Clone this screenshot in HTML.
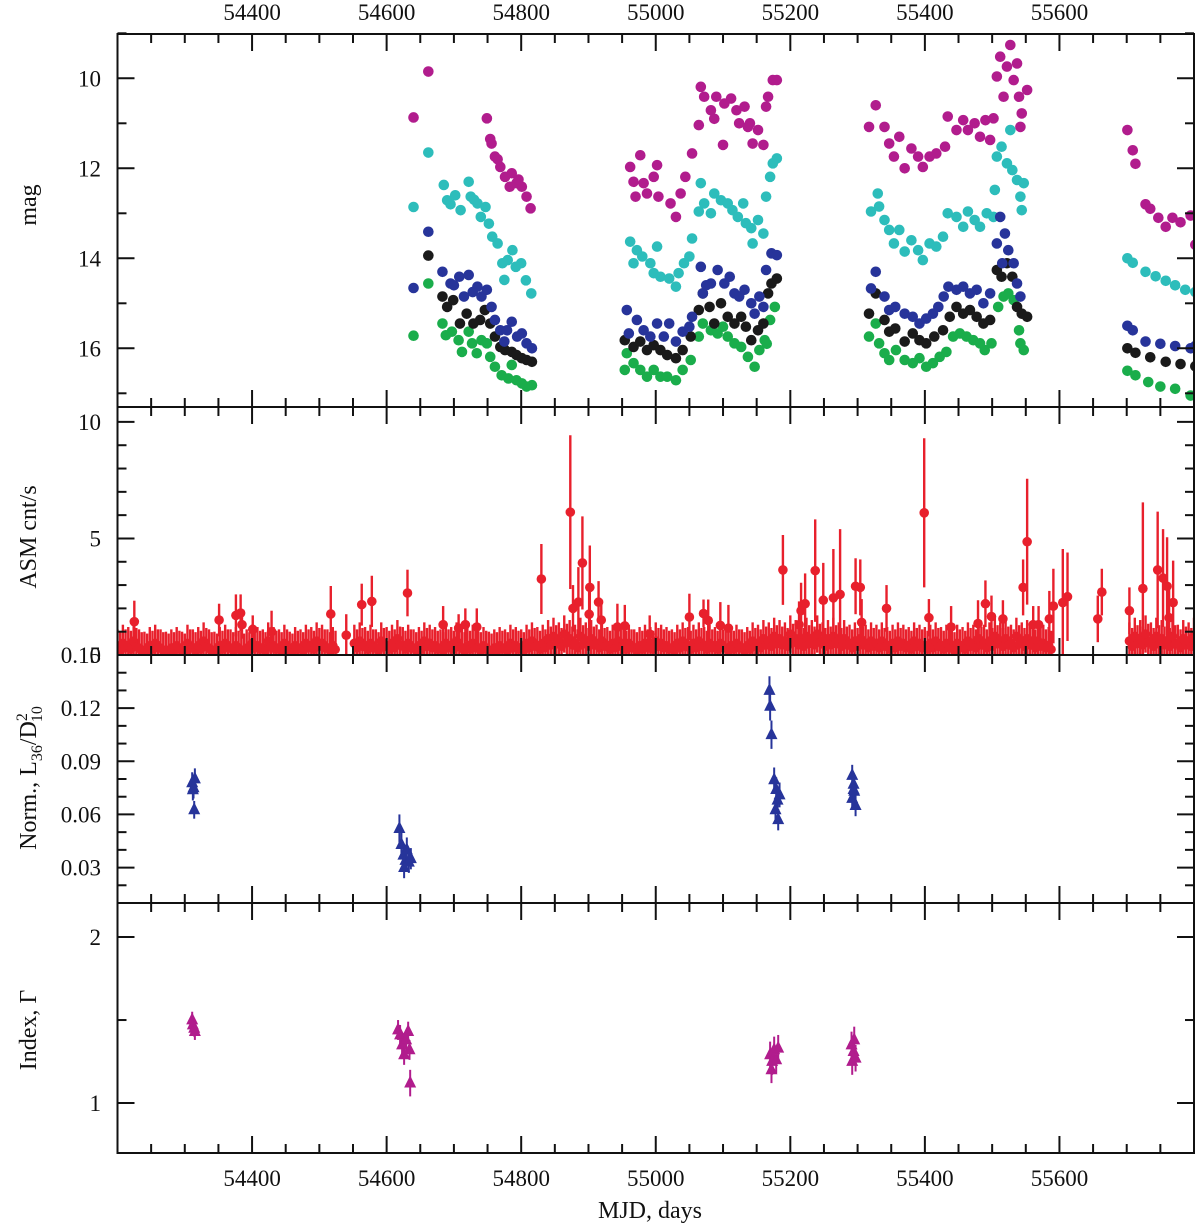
<!DOCTYPE html>
<html><head><meta charset="utf-8">
<style>
html,body{margin:0;padding:0;background:#fff;}
svg{display:block;}
text{font-family:"Liberation Serif",serif;fill:#111;}
</style></head>
<body>
<div style="position:relative;width:1200px;height:1225px;">
<svg id="chart" width="1200" height="1225" viewBox="0 0 1200 1225" xmlns="http://www.w3.org/2000/svg" style="position:absolute;left:0;top:0">
<g id="marks"></g>
<g id="axes"></g>
<text x="650" y="1218" text-anchor="middle" font-size="24">MJD, days</text>
<text transform="translate(36,205) rotate(-90)" text-anchor="middle" font-size="24">mag</text>
<text transform="translate(36,537) rotate(-90)" text-anchor="middle" font-size="24">ASM cnt/s</text>
<text transform="translate(36,778) rotate(-90)" text-anchor="middle" font-size="24">Norm., L<tspan font-size="16" dy="6">36</tspan><tspan dy="-6">/D</tspan><tspan font-size="16" dy="-9">2</tspan><tspan font-size="16" dx="-9" dy="15">10</tspan></text>
<text transform="translate(36,1030) rotate(-90)" text-anchor="middle" font-size="24">Index, Γ</text>
</svg>
</div>
<script>
// ---------- X axis ----------
const xTicksMajor = [54400, 54600, 54800, 55000, 55200, 55400, 55600];
// ---------- Magnitude panel data ----------
const magMjd = [54640,54662,54749,54756,54761,54769,54776,54786,54793,54801,54808,54814,54765,54783,54754,54796,
 54962,54977,54967,54970,54982,54987,54997,55002,55004,55022,55030,55037,55044,55054,55064,55067,55072,55082,55090,55100,55102,55112,55120,55124,55132,55137,55144,55152,55160,55164,55167,55174,55180,55140,55087,
 55317,55327,55340,55347,55354,55362,55370,55380,55390,55397,55407,55417,55430,55434,55447,55457,55464,55474,55482,55490,55497,55502,55507,55512,55517,55522,55527,55532,55537,55540,55544,55542,55552,
 55701,55709,55713,55728,55735,55747,55758,55768,55780,55795,55802];
const magMagenta = [10.87,9.85,10.89,11.45,11.74,11.97,12.19,12.11,12.33,12.41,12.63,12.89,11.8,12.41,11.35,12.25,
 11.97,11.71,12.3,12.63,12.33,12.56,12.19,11.93,12.63,12.78,13.08,12.56,12.19,11.67,11.04,10.19,10.41,10.71,10.41,11.48,10.56,10.45,10.71,11.0,10.63,11.08,11.45,11.15,11.48,10.63,10.41,10.04,10.04,11.0,10.9,
 11.08,10.6,11.08,11.45,11.74,11.3,12.0,11.56,11.74,11.97,11.74,11.67,11.52,10.85,11.15,10.93,11.15,11.0,11.3,10.93,11.37,10.89,9.96,9.52,10.41,9.74,9.26,10.04,9.67,10.41,10.78,11.08,10.26,
 11.15,11.6,11.9,12.8,12.9,13.1,13.3,13.1,13.2,13.05,13.7];

const cyanMjd = [54640,54662,54685,54690,54702,54710,54722,54725,54735,54740,54747,54752,54757,54765,54772,54780,54787,54792,54800,54807,54815,54775,54695,54730,
 54962,54972,54967,54980,54992,55002,54997,55007,55020,55030,55034,55042,55050,55054,55064,55067,55072,55082,55087,55097,55107,55114,55122,55130,55134,55142,55144,55152,55160,55164,55170,55174,55180,
 55320,55330,55332,55340,55347,55354,55362,55370,55380,55390,55397,55407,55417,55427,55434,55447,55457,55464,55474,55482,55492,55502,55504,55507,55514,55522,55527,55530,55537,55542,55547,55544,
 55701,55709,55728,55743,55758,55772,55787,55802];
const magCyan = [12.86,11.65,12.37,12.71,12.6,12.93,12.3,12.63,12.78,13.08,12.86,13.23,13.52,13.67,14.11,14.04,13.82,14.19,14.11,14.49,14.78,14.48,12.8,12.7,
 13.63,13.82,14.11,13.96,14.11,13.74,14.33,14.41,14.45,14.63,14.33,14.11,13.96,13.56,12.96,12.33,12.78,13.0,12.56,12.71,12.78,12.93,13.08,12.78,13.22,13.33,13.67,13.15,13.45,12.63,12.19,11.89,11.78,
 12.96,12.56,12.85,13.15,13.37,13.67,13.37,13.85,13.6,13.82,14.04,13.67,13.74,13.52,13.0,13.08,13.3,12.96,13.15,13.3,13.0,13.08,12.48,11.74,11.52,11.89,11.15,12.04,12.26,12.63,12.33,12.93,
 14.0,14.1,14.3,14.4,14.5,14.6,14.7,14.75];

const blueMjd = [54640,54662,54683,54695,54708,54715,54722,54735,54741,54749,54756,54761,54769,54779,54786,54794,54801,54808,54816,54775,54700,54728,
 54957,54960,54972,54982,54992,55002,55012,55020,55030,55040,55050,55054,55067,55070,55082,55092,55102,55110,55117,55124,55132,55142,55147,55154,55160,55164,55172,55180,55075,
 55327,55320,55340,55347,55356,55370,55382,55392,55402,55412,55420,55428,55435,55447,55457,55467,55477,55487,55497,55507,55512,55519,55524,55532,55537,55542,55515,
 55701,55709,55728,55750,55772,55795,55802];
const magBlue = [14.66,13.41,14.3,14.56,14.41,14.85,14.37,14.63,14.85,14.7,15.08,15.37,15.6,15.6,15.41,15.74,15.67,15.89,16.0,15.85,14.6,14.75,
 15.15,15.67,15.37,15.6,15.74,15.45,15.74,15.45,15.85,15.63,15.52,15.3,14.19,14.78,14.56,14.26,14.56,14.41,14.78,14.85,14.7,15.0,15.23,14.85,15.08,14.26,13.89,13.93,14.6,
 14.3,14.67,14.85,15.15,15.08,15.23,15.3,15.45,15.34,15.23,15.08,14.85,14.63,14.7,14.63,14.78,14.7,15.0,14.78,13.67,13.08,13.45,13.82,14.11,14.56,14.85,14.11,
 15.5,15.6,15.85,15.9,15.95,16.0,15.95];

const blackMjd = [54662,54683,54690,54699,54709,54719,54729,54739,54746,54754,54761,54769,54776,54786,54793,54801,54808,54816,
 54954,54967,54977,54987,54997,55007,55017,55030,55040,55052,55064,55070,55080,55087,55097,55107,55117,55127,55134,55142,55152,55160,55167,55172,55180,
 55317,55327,55340,55347,55356,55370,55382,55392,55402,55414,55427,55437,55447,55457,55467,55477,55487,55497,55507,55514,55522,55530,55537,55544,55552,
 55701,55713,55735,55758,55780,55802];
const magBlack = [13.94,14.85,15.08,14.93,15.45,15.23,15.45,15.37,15.15,15.45,15.74,15.97,16.04,16.08,16.15,16.22,16.26,16.3,
 15.82,15.97,15.85,16.04,15.93,16.04,16.15,16.22,16.04,15.74,15.15,14.78,15.08,15.45,15.0,15.3,15.45,15.3,15.52,15.82,15.6,15.45,14.78,14.56,14.45,
 15.23,14.78,15.37,15.63,15.56,15.85,15.67,15.82,15.89,15.74,15.6,15.3,15.08,15.23,15.15,15.3,15.45,15.37,14.26,14.41,14.11,14.41,15.08,15.23,15.3,
 16.0,16.1,16.2,16.3,16.35,16.4];

const greenMjd = [54640,54662,54683,54688,54697,54707,54712,54722,54727,54734,54741,54749,54754,54761,54771,54781,54786,54793,54801,54808,54816,
 54957,54954,54967,54977,54987,54997,55007,55017,55030,55040,55052,55064,55070,55082,55092,55100,55107,55117,55127,55137,55147,55154,55162,55170,55177,55165,
 55317,55327,55332,55340,55347,55357,55370,55382,55392,55402,55412,55422,55432,55442,55452,55462,55472,55482,55489,55499,55509,55517,55524,55532,55540,55542,55547,
 55701,55713,55732,55750,55772,55795];
const magGreen = [15.72,14.56,15.45,15.71,15.63,15.82,16.08,15.63,15.89,16.11,15.82,15.89,16.19,16.41,16.6,16.67,16.37,16.71,16.78,16.85,16.82,
 16.11,16.48,16.33,16.48,16.63,16.48,16.63,16.63,16.71,16.48,16.26,15.74,15.45,15.6,15.67,15.52,15.74,15.89,15.97,16.19,16.41,16.04,15.82,15.37,15.08,15.9,
 15.74,15.45,15.89,16.11,16.26,16.04,16.26,16.33,16.22,16.41,16.33,16.19,16.08,15.74,15.67,15.74,15.82,15.89,16.04,15.89,15.08,14.85,14.78,14.93,15.6,15.89,16.04,
 16.5,16.6,16.75,16.85,16.9,17.05];

// ---------- ASM panel data ----------
const asmBaseStart = 54200;
const asmBaseStep = 8;
const asmBase = [0.3,0.5,0.4,0.6,0.3,0.2,0.4,0.5,0.3,0.2, 0.3,0.4,0.2,0.5,0.3,0.4,0.6,0.3,0.2,0.4,
 0.5,0.3,0.4,0.2,0.3,0.5,0.4,0.3,0.6,0.4, 0.3,0.5,0.2,0.4,0.3,0.5,0.4,0.6,0.5,0.3, 0.4,
 null,null,null,
 0.5,0.6,0.4,0.5,0.3,0.6,0.4,0.5,0.7,0.4, 0.5,0.3,0.4,0.6,0.5,0.4,0.3,0.5,0.4,0.6,
 0.3,0.4,0.5,0.3,0.4,0.2,0.3,0.4,0.3,0.5, 0.4,0.3,0.5,0.6,0.4,0.5,0.7,
 0.8,0.6,0.9,0.7,0.5,0.8,0.6,0.7,0.5,0.6, 0.4,0.5,0.6,0.4,0.5,0.3,0.4,0.5,0.4,0.6,
 0.5,0.4,0.3,0.5,0.6,0.4,0.5,0.6,0.4,0.5,
 0.4,0.5,0.3,0.4,0.5,0.3,0.4,0.6,0.5,0.7, 0.6,0.8,0.7,0.6,0.9,0.7,0.6,0.8,0.7,0.9,
 0.6,0.7,0.8,0.6,0.7,0.5,0.6,0.7,0.5,0.6,
 0.5,0.6,0.4,0.5,0.6,0.5,0.4,0.6,0.5,0.4, 0.5,0.6,0.4,0.5,0.3,0.5,0.4,0.6,0.5,0.7,
 0.5,0.6,0.8,0.6,0.7,0.5,0.8,0.6,0.7,0.5, 0.6,0.5,0.4,
 null,null,null,null,null,null,null,null,null,null,null,null,null,null,
 0.6,0.8,0.7,0.9,0.6,0.8,0.7,0.6,0.8,0.5,0.7,0.6,0.8];
const asmBaseErr = 0.8;
const asmSpikeMjd = [54225,54351,54376,54383,54385,54401,54429,54517,54540,54563,54578,54631,54684,54707,54717,54734,
 54830,54873,54877,54885,54891,54901,54902,54915,54919,54943,54954,54991,
 55050,55071,55078,55096,55108,55189,55213,55216,55222,55237,55249,55264,55274,55297,55304,55306,55343,55399,55406,55439,
 55479,55490,55499,55516,55546,55552,55561,55569,55585,55591,55605,55612,55657,55663,55704,55724,55746,55754,55760,55769,55763];
const asmSpikeVal = [1.43,1.5,1.7,1.8,1.3,1.1,1.0,1.76,0.85,2.16,2.3,2.66,1.3,1.15,1.3,1.2,
 3.26,6.13,2.0,2.27,3.95,1.75,2.9,2.27,1.5,1.2,1.25,0.9,
 1.63,1.78,1.48,1.27,1.15,3.65,1.3,1.9,2.2,3.62,2.35,2.45,2.6,2.95,2.9,1.4,2.0,6.1,1.6,1.2,
 1.35,2.2,1.65,1.55,2.9,4.86,1.3,1.3,1.55,2.1,2.25,2.5,1.55,2.7,1.9,2.85,3.65,3.3,2.95,2.25,1.6];
const asmSpikeErr = [0.9,0.7,0.9,0.8,0.6,0.6,0.9,1.2,0.9,0.9,1.1,1.0,0.8,0.6,0.7,0.8,
 1.5,3.3,1.0,1.5,2.0,1.0,1.8,0.9,0.9,1.0,0.9,0.8,
 1.0,0.6,0.9,1.0,1.0,1.5,1.0,1.2,1.3,2.2,1.6,2.1,2.8,1.2,1.2,1.0,1.0,3.2,0.8,0.9,
 1.0,1.0,0.9,0.8,1.2,2.7,0.8,0.8,1.2,1.6,2.3,1.9,1.0,1.0,1.0,3.7,2.5,2.1,2.1,1.8,1.3];

// ---------- Norm panel ----------
const normMjd = [54311,54312,54314,54315,54313,
 54619,54622,54625,54628,54630,54633,54636,54626,
 55169,55170,55172,55176,55179,55181,55178,55182,55184,
 55292,55294,55295,55292,55297,55294];
const normVal = [0.0778,0.0739,0.0626,0.080,0.075,
 0.052,0.043,0.037,0.034,0.040,0.033,0.035,0.030,
 0.130,0.121,0.105,0.0795,0.074,0.068,0.0626,0.057,0.071,
 0.082,0.077,0.073,0.069,0.065,0.074];
const normErr = [0.006,0.006,0.005,0.006,0.006,
 0.008,0.007,0.006,0.006,0.007,0.006,0.006,0.006,
 0.008,0.008,0.008,0.007,0.007,0.007,0.007,0.006,0.007,
 0.006,0.006,0.006,0.006,0.006,0.006];

// ---------- Index panel ----------
const idxMjd = [54311,54312,54314,54315,
 54617,54620,54623,54626,54629,54632,54634,54635,
 55170,55172,55173,55176,55179,55182,
 55291,55292,55294,55295,55297];
const idxVal = [1.50,1.47,1.45,1.43,
 1.44,1.41,1.35,1.29,1.38,1.43,1.32,1.12,
 1.29,1.2,1.25,1.32,1.26,1.33,
 1.35,1.25,1.31,1.38,1.27];
const idxErr = [0.05,0.05,0.05,0.05,
 0.06,0.06,0.06,0.06,0.06,0.06,0.06,0.08,
 0.08,0.08,0.08,0.08,0.08,0.08,
 0.08,0.08,0.08,0.08,0.08];

// ---------- scales ----------
const X0 = 117.5, X1 = 1194, MJD0 = 54200, MJD1 = 55800;
function xs(m){ return X0 + (m - MJD0) / (MJD1 - MJD0) * (X1 - X0); }
const P = {
  mag:  {top:34,  bot:407,  v0:10 + (34 - 78.3) / 45, v1:10 + (407 - 78.3) / 45},
  asm:  {top:407, bot:655,  v0:10.64, v1:0},
  norm: {top:655, bot:903,  v0:0.15, v1:0.01},
  idx:  {top:903, bot:1153, v0:2.205, v1:0.699}
};
function ys(p, v){ return p.top + (v - p.v0) / (p.v1 - p.v0) * (p.bot - p.top); }

const NS = "http://www.w3.org/2000/svg";
const svgRoot = document.getElementById('chart');
const marks = document.getElementById('marks');
const axes = document.getElementById('axes');
function mk(tag, attrs, parent){
  const e = document.createElementNS(NS, tag);
  for (const k in attrs) e.setAttribute(k, attrs[k]);
  (parent || marks).appendChild(e);
  return e;
}

const defs = mk('defs', {}, svgRoot);
['mag','asm','norm','idx'].forEach(k => {
  const cp = mk('clipPath', {id:'clip-'+k}, defs);
  mk('rect', {x:X0, y:P[k].top, width:X1-X0, height:P[k].bot-P[k].top}, cp);
});

// ---- mag panel ----
const gMag = mk('g', {'clip-path':'url(#clip-mag)'});


function magSeries(mjd, vals, color, name){
  const g = mk('g', {fill: color}, gMag);
  
  
  for (let i = 0; i < mjd.length; i++){
    const c = mk('circle', {cx: xs(mjd[i]), cy: ys(P.mag, vals[i]), r: 5.3}, g);
    
    
  }
}
magSeries(magMjd, magMagenta, '#b11c8d', 'magenta-band-series');
magSeries(cyanMjd, magCyan, '#2dbdbb', 'cyan-band-series');
magSeries(greenMjd, magGreen, '#1aad4b', 'green-band-series');
magSeries(blackMjd, magBlack, '#1a1a1a', 'black-band-series');
magSeries(blueMjd, magBlue, '#27349a', 'blue-band-series');

// ---- ASM panel ----
const gAsm = mk('g', {'clip-path':'url(#clip-asm)', fill:'#e8202c', stroke:'#e8202c'});


function errPoint(g, p, m, v, e, r, name){
  const x = xs(m);
  const l = mk('line', {x1:x, x2:x, y1:ys(p, v - e), y2:ys(p, v + e), 'stroke-width':2.4}, g);
  
  
  const c = mk('circle', {cx:x, cy:ys(p, v), r:r, stroke:'none'}, g);
  
  
}
for (let i = 0; i < asmBase.length; i++){
  if (asmBase[i] === null) continue;
  errPoint(gAsm, P.asm, asmBaseStart + i * asmBaseStep, asmBase[i], asmBaseErr, 4.8, 'asm');
  errPoint(gAsm, P.asm, asmBaseStart + i * asmBaseStep + 4, asmBase[i] * 0.6, asmBaseErr, 4.5, 'asm');
}
for (let i = 0; i < asmSpikeMjd.length; i++){
  errPoint(gAsm, P.asm, asmSpikeMjd[i], asmSpikeVal[i], asmSpikeErr[i], 4.8, 'asm-flare');
}

// ---- triangles ----
function tri(g, x, y, s, name){
  const t = mk('polygon', {points:`${x},${y-s} ${x-s*0.8},${y+s*0.6} ${x+s*0.8},${y+s*0.6}`}, g);
  
  
}
const gNorm = mk('g', {'clip-path':'url(#clip-norm)', fill:'#27349a', stroke:'#27349a'});


for (let i = 0; i < normMjd.length; i++){
  const x = xs(normMjd[i]);
  const l = mk('line', {x1:x, x2:x, y1:ys(P.norm, normVal[i]-normErr[i]), y2:ys(P.norm, normVal[i]+normErr[i]), 'stroke-width':2}, gNorm);
  
  
  tri(gNorm, x, ys(P.norm, normVal[i]), 6.5, 'norm-point');
}
const gIdx = mk('g', {'clip-path':'url(#clip-idx)', fill:'#b11c8d', stroke:'#b11c8d'});


for (let i = 0; i < idxMjd.length; i++){
  const x = xs(idxMjd[i]);
  const l = mk('line', {x1:x, x2:x, y1:ys(P.idx, idxVal[i]-idxErr[i]), y2:ys(P.idx, idxVal[i]+idxErr[i]), 'stroke-width':2}, gIdx);
  
  
  tri(gIdx, x, ys(P.idx, idxVal[i]), 6.5, 'index-point');
}

// ---- axes / frames ----
const yTickDefs = {
  mag:  {major:[10,12,14,16], minor:[9,11,13,15,17], labels:['10','12','14','16']},
  asm:  {major:[0,5,10], minor:[1,2,3,4,6,7,8,9], labels:['0','5','10']},
  norm: {major:[0.03,0.06,0.09,0.12,0.15], minor:[0.01,0.02,0.04,0.05,0.07,0.08,0.10,0.11,0.13,0.14], labels:['0.03','0.06','0.09','0.12','0.15']},
  idx:  {major:[1,2], minor:[1.5], labels:['1','2']}
};
const axStyle = {stroke:'#111', 'stroke-width':2, fill:'none'};
['mag','asm','norm','idx'].forEach(k => {
  const p = P[k];
  const r = mk('rect', Object.assign({x:X0, y:p.top, width:X1-X0, height:p.bot-p.top}, axStyle), axes);
  
  
  for (let m = MJD0 + 50; m < MJD1; m += 50){
    const major = (m % 200 === 0);
    const len = major ? 17 : 9;
    const x = xs(m);
    mk('line', Object.assign({x1:x, x2:x, y1:p.bot, y2:p.bot-len}, axStyle), axes);
    mk('line', Object.assign({x1:x, x2:x, y1:p.top, y2:p.top+len}, axStyle), axes);
  }
  const d = yTickDefs[k];
  d.major.forEach((v, i) => {
    const y = ys(p, v);
    mk('line', Object.assign({x1:X0, x2:X0+17, y1:y, y2:y}, axStyle), axes);
    mk('line', Object.assign({x1:X1, x2:X1-17, y1:y, y2:y}, axStyle), axes);
    const t = mk('text', {x:101, y:y+8, 'text-anchor':'end', 'font-size':23}, axes);
    t.textContent = d.labels[i];
    
    
  });
  d.minor.forEach(v => {
    const y = ys(p, v);
    mk('line', Object.assign({x1:X0, x2:X0+9, y1:y, y2:y}, axStyle), axes);
    mk('line', Object.assign({x1:X1, x2:X1-9, y1:y, y2:y}, axStyle), axes);
  });
});
xTicksMajor.forEach(m => {
  const t1 = mk('text', {x:xs(m), y:20, 'text-anchor':'middle', 'font-size':23}, axes);
  t1.textContent = String(m);
  
  
  const t2 = mk('text', {x:xs(m), y:1186, 'text-anchor':'middle', 'font-size':23}, axes);
  t2.textContent = String(m);
  
  
});
</script>
</body></html>
